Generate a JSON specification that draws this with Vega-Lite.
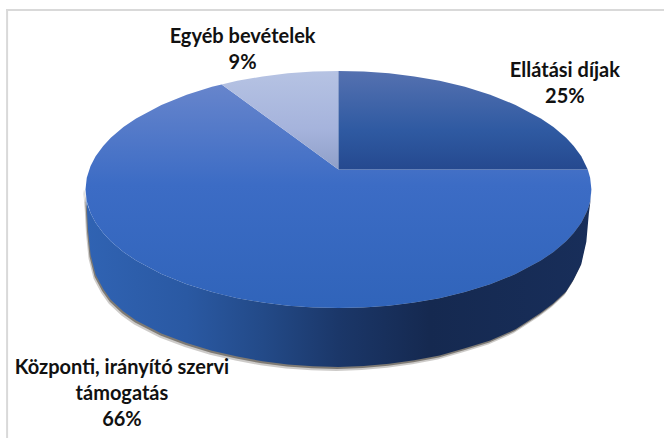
{
  "$schema": "https://vega.github.io/schema/vega-lite/v6.json",
  "width": 664,
  "height": 438,
  "padding": 0,
  "autosize": "none",
  "background": "#ffffff",
  "view": {"stroke": null},
  "datasets": {
    "rim": [
      {"x": -1, "y": 0, "y2": 0},
      {"x": -0.995, "y": -0.0999, "y2": -0.14},
      {"x": -0.99, "y": -0.141, "y2": -0.34},
      {"x": -0.98, "y": -0.199, "y2": -0.55},
      {"x": -0.96, "y": -0.28, "y2": -0.72},
      {"x": -0.93, "y": -0.368, "y2": -0.84},
      {"x": -0.9, "y": -0.436, "y2": -0.93},
      {"x": -0.85, "y": -0.527, "y2": -1.03},
      {"x": -0.8, "y": -0.6, "y2": -1.105},
      {"x": -0.7, "y": -0.714, "y2": -1.215},
      {"x": -0.6, "y": -0.8, "y2": -1.295},
      {"x": -0.5, "y": -0.866, "y2": -1.36},
      {"x": -0.4, "y": -0.917, "y2": -1.41},
      {"x": -0.3, "y": -0.954, "y2": -1.45},
      {"x": -0.2, "y": -0.98, "y2": -1.476},
      {"x": -0.1, "y": -0.995, "y2": -1.492},
      {"x": 0, "y": -1, "y2": -1.498},
      {"x": 0.1, "y": -0.995, "y2": -1.49},
      {"x": 0.2, "y": -0.98, "y2": -1.47},
      {"x": 0.3, "y": -0.954, "y2": -1.44},
      {"x": 0.4, "y": -0.917, "y2": -1.4},
      {"x": 0.5, "y": -0.866, "y2": -1.34},
      {"x": 0.6, "y": -0.8, "y2": -1.275},
      {"x": 0.7, "y": -0.714, "y2": -1.18},
      {"x": 0.8, "y": -0.6, "y2": -1.04},
      {"x": 0.85, "y": -0.527, "y2": -0.96},
      {"x": 0.9, "y": -0.436, "y2": -0.86},
      {"x": 0.93, "y": -0.368, "y2": -0.76},
      {"x": 0.96, "y": -0.28, "y2": -0.63},
      {"x": 0.98, "y": -0.199, "y2": -0.44},
      {"x": 0.99, "y": -0.141, "y2": -0.2},
      {"x": 0.995, "y": -0.0999, "y2": -0.12},
      {"x": 1, "y": 0, "y2": 0}
    ],
    "central": [
      {"x": -1, "y": 0, "y2": 0},
      {"x": -0.995, "y": 0.0999, "y2": -0.0999},
      {"x": -0.98, "y": 0.199, "y2": -0.199},
      {"x": -0.96, "y": 0.28, "y2": -0.28},
      {"x": -0.93, "y": 0.368, "y2": -0.368},
      {"x": -0.9, "y": 0.436, "y2": -0.436},
      {"x": -0.85, "y": 0.527, "y2": -0.527},
      {"x": -0.8, "y": 0.6, "y2": -0.6},
      {"x": -0.7, "y": 0.714, "y2": -0.714},
      {"x": -0.6, "y": 0.8, "y2": -0.8},
      {"x": -0.5, "y": 0.866, "y2": -0.866},
      {"x": -0.462, "y": 0.887, "y2": -0.887},
      {"x": -0.4, "y": 0.791, "y2": -0.917},
      {"x": -0.3, "y": 0.635, "y2": -0.954},
      {"x": -0.2, "y": 0.48, "y2": -0.98},
      {"x": -0.1, "y": 0.324, "y2": -0.995},
      {"x": 0, "y": 0.169, "y2": -1},
      {"x": 0.1, "y": 0.169, "y2": -0.995},
      {"x": 0.2, "y": 0.169, "y2": -0.98},
      {"x": 0.3, "y": 0.169, "y2": -0.954},
      {"x": 0.4, "y": 0.169, "y2": -0.917},
      {"x": 0.5, "y": 0.169, "y2": -0.866},
      {"x": 0.6, "y": 0.169, "y2": -0.8},
      {"x": 0.7, "y": 0.169, "y2": -0.714},
      {"x": 0.8, "y": 0.169, "y2": -0.6},
      {"x": 0.85, "y": 0.169, "y2": -0.527},
      {"x": 0.9, "y": 0.169, "y2": -0.436},
      {"x": 0.93, "y": 0.169, "y2": -0.368},
      {"x": 0.96, "y": 0.169, "y2": -0.28},
      {"x": 0.9856, "y": 0.169, "y2": -0.169},
      {"x": 0.995, "y": 0.0999, "y2": -0.0999},
      {"x": 1, "y": 0, "y2": 0}
    ],
    "other": [
      {"x": -0.462, "y": 0.887, "y2": 0.887},
      {"x": -0.4, "y": 0.917, "y2": 0.791},
      {"x": -0.3, "y": 0.954, "y2": 0.635},
      {"x": -0.2, "y": 0.98, "y2": 0.48},
      {"x": -0.1, "y": 0.995, "y2": 0.324},
      {"x": 0, "y": 1, "y2": 0.169}
    ],
    "fees": [
      {"x": 0, "y": 1, "y2": 0.169},
      {"x": 0.1, "y": 0.995, "y2": 0.169},
      {"x": 0.2, "y": 0.98, "y2": 0.169},
      {"x": 0.3, "y": 0.954, "y2": 0.169},
      {"x": 0.4, "y": 0.917, "y2": 0.169},
      {"x": 0.5, "y": 0.866, "y2": 0.169},
      {"x": 0.6, "y": 0.8, "y2": 0.169},
      {"x": 0.7, "y": 0.714, "y2": 0.169},
      {"x": 0.8, "y": 0.6, "y2": 0.169},
      {"x": 0.85, "y": 0.527, "y2": 0.169},
      {"x": 0.9, "y": 0.436, "y2": 0.169},
      {"x": 0.93, "y": 0.368, "y2": 0.169},
      {"x": 0.96, "y": 0.28, "y2": 0.169},
      {"x": 0.9856, "y": 0.169, "y2": 0.169}
    ],
    "shares": [
      {"label": ["Ellátási díjak", "25%"], "share": 25, "x": 0.895, "y": 1.086},
      {"label": ["Központi, irányító szervi", "támogatás", "66%"], "share": 66, "x": -0.856, "y": -1.425},
      {"label": ["Egyéb bevételek", "9%"], "share": 9, "x": -0.379, "y": 1.373}
    ],
    "frameLeft": [{"x": -1.31, "y": 1.523, "y2": -2.097}],
    "frameTop": [{"x": -1.314, "x2": 1.287, "y": 1.515}]
  },
  "encoding": {
    "x": {"field": "x", "type": "quantitative", "scale": {"domain": [-1.338, 1.287], "nice": false, "zero": false}, "axis": null},
    "y": {"field": "y", "type": "quantitative", "scale": {"domain": [-2.097, 1.599], "nice": false, "zero": false}, "axis": null}
  },
  "layer": [
    {
      "data": {"name": "rim"},
      "mark": {"type": "area", "color": "#4a453c", "opacity": 0.28, "y2Offset": 4, "xOffset": -2},
      "encoding": {"y2": {"field": "y2"}}
    },
    {
      "data": {"name": "rim"},
      "mark": {"type": "area", "color": "#4a453c", "opacity": 0.6, "y2Offset": 2, "xOffset": -1},
      "encoding": {"y2": {"field": "y2"}}
    },
    {
      "data": {"name": "rim"},
      "mark": {
        "type": "area",
        "fill": {
          "gradient": "linear", "x1": 0, "x2": 1, "y1": 0, "y2": 0,
          "stops": [
            {"offset": 0, "color": "#3063b3"},
            {"offset": 0.2, "color": "#2a59a3"},
            {"offset": 0.35, "color": "#234a88"},
            {"offset": 0.5, "color": "#1b3769"},
            {"offset": 0.68, "color": "#152950"},
            {"offset": 1, "color": "#182e5a"}
          ]
        }
      },
      "encoding": {"y2": {"field": "y2"}}
    },
    {
      "data": {"name": "central"},
      "mark": {
        "type": "area",
        "fill": {
          "gradient": "linear", "x1": 0, "x2": 0, "y1": 0, "y2": 1,
          "stops": [
            {"offset": 0, "color": "#6785cc"},
            {"offset": 0.45, "color": "#3c6cc5"},
            {"offset": 1, "color": "#3064ba"}
          ]
        }
      },
      "encoding": {"y2": {"field": "y2"}}
    },
    {
      "data": {"name": "other"},
      "mark": {
        "type": "area",
        "fill": {
          "gradient": "linear", "x1": 0, "x2": 0, "y1": 0, "y2": 1,
          "stops": [
            {"offset": 0, "color": "#b6c3e3"},
            {"offset": 0.6, "color": "#a5b3dc"},
            {"offset": 1, "color": "#8e9fc8"}
          ]
        }
      },
      "encoding": {"y2": {"field": "y2"}}
    },
    {
      "data": {"name": "fees"},
      "mark": {
        "type": "area",
        "fill": {
          "gradient": "linear", "x1": 0, "x2": 0, "y1": 0, "y2": 1,
          "stops": [
            {"offset": 0, "color": "#5571b0"},
            {"offset": 0.6, "color": "#2f5aa2"},
            {"offset": 1, "color": "#25498f"}
          ]
        }
      },
      "encoding": {"y2": {"field": "y2"}}
    },
    {
      "data": {"name": "frameLeft"},
      "mark": {"type": "rule", "color": "#d9d9d9", "strokeWidth": 2},
      "encoding": {"y2": {"field": "y2"}}
    },
    {
      "data": {"name": "frameTop"},
      "mark": {"type": "rule", "color": "#d9d9d9", "strokeWidth": 2},
      "encoding": {"x2": {"field": "x2"}}
    },
    {
      "data": {"name": "shares"},
      "mark": {
        "type": "text",
        "font": "Lato",
        "fontWeight": "bold",
        "fontSize": 20,
        "lineHeight": 26,
        "color": "#111111",
        "align": "center",
        "baseline": "top"
      },
      "encoding": {"text": {"field": "label"}}
    }
  ]
}
